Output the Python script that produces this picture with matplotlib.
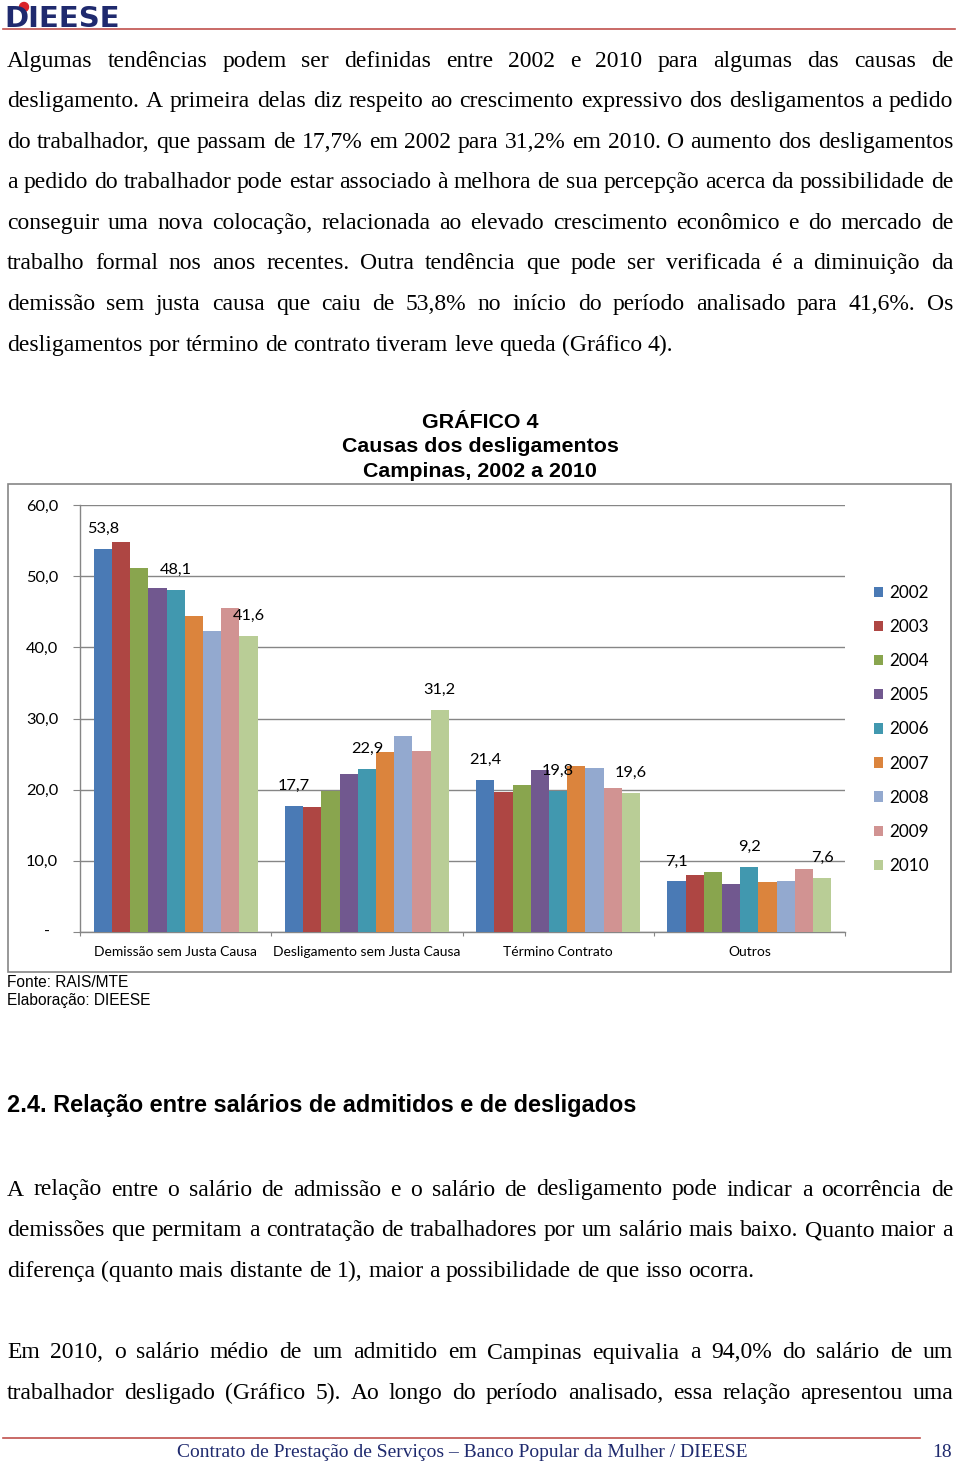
import matplotlib
matplotlib.use('Agg')
import numpy as np
import matplotlib.pyplot as plt
from matplotlib.patches import Rectangle, Ellipse
from matplotlib.lines import Line2D

# dados do grafico 4
categorias = ['Demissão sem Justa Causa', 'Desligamento sem Justa Causa',
              'Término Contrato', 'Outros']
anos = ['2002', '2003', '2004', '2005', '2006', '2007', '2008', '2009', '2010']
v2002 = [53.8, 17.7, 21.4, 7.1]
v2003 = [54.8, 17.5, 19.7, 8.0]
v2004 = [51.1, 19.8, 20.7, 8.4]
v2005 = [48.4, 22.2, 22.7, 6.7]
v2006 = [48.1, 22.9, 19.8, 9.2]
v2007 = [44.4, 25.3, 23.3, 7.0]
v2008 = [42.3, 27.5, 23.0, 7.2]
v2009 = [45.5, 25.4, 20.3, 8.8]
v2010 = [41.6, 31.2, 19.6, 7.6]
series = [v2002, v2003, v2004, v2005, v2006, v2007, v2008, v2009, v2010]
rotulados = ['2002', '2006', '2010']
yticks = [0, 10, 20, 30, 40, 50, 60]
ylabels = ['', '10,0', '20,0', '30,0', '40,0', '50,0', '60,0']

cores = ['#4a7ab5', '#ae4643', '#89a54e', '#71588f', '#4198af',
         '#db843d', '#93a9cf', '#d19392', '#b9cd96']

par1 = ["Algumas tendências podem ser definidas entre 2002 e 2010 para algumas das causas de",
        "desligamento. A primeira delas diz respeito ao crescimento expressivo dos desligamentos a pedido",
        "do trabalhador, que passam de 17,7% em 2002 para 31,2% em 2010. O aumento dos desligamentos",
        "a pedido do trabalhador pode estar associado à melhora de sua percepção acerca da possibilidade de",
        "conseguir uma nova colocação, relacionada ao elevado crescimento econômico e do mercado de",
        "trabalho formal nos anos recentes. Outra tendência que pode ser verificada é a diminuição da",
        "demissão sem justa causa que caiu de 53,8% no início do período analisado para 41,6%. Os",
        "desligamentos por término de contrato tiveram leve queda (Gráfico 4)."]
par2 = ["A relação entre o salário de admissão e o salário de desligamento pode indicar a ocorrência de",
        "demissões que permitam a contratação de trabalhadores por um salário mais baixo. Quanto maior a",
        "diferença (quanto mais distante de 1), maior a possibilidade de que isso ocorra."]
par3 = ["Em 2010, o salário médio de um admitido em Campinas equivalia a 94,0% do salário de um",
        "trabalhador desligado (Gráfico 5). Ao longo do período analisado, essa relação apresentou uma"]

W, H = 960, 1466
plt.rcParams['font.family'] = 'Lato'
fig = plt.figure(figsize=(9.6, 14.66), dpi=100)
r = fig.canvas.get_renderer()


def px(x, y):
    return x / W, 1 - y / H


def linha(txt, y, justify=True, x0=7, x1=953, **kw):
    words = txt.split()
    objs = [fig.text(*px(x0, y), w, va='baseline', **kw) for w in words]
    ws = [o.get_window_extent(r).width for o in objs]
    if justify and len(words) > 1:
        gap = (x1 - x0 - sum(ws)) / (len(words) - 1)
    else:
        a = fig.text(0, 0, 'a a', **kw)
        b = fig.text(0, 0, 'aa', **kw)
        gap = a.get_window_extent(r).width - b.get_window_extent(r).width
        a.remove()
        b.remove()
    x = x0
    for o, w in zip(objs, ws):
        o.set_x(x / W)
        x += w + gap


corpo = dict(family='Liberation Serif', fontsize=17, color='black')
for i, t in enumerate(par1):
    linha(t, 66.7 + 40.55 * i, justify=(i < len(par1) - 1), **corpo)
for i, t in enumerate(par2):
    linha(t, 1195.5 + 40.55 * i, justify=(i < len(par2) - 1), **corpo)
for i, t in enumerate(par3):
    linha(t, 1358.5 + 40.55 * i, justify=True, **corpo)

fig.text(*px(7, 1112), '2.4. Relação entre salários de admitidos e de desligados',
         family='Liberation Sans', weight='bold', fontsize=16.9, va='baseline')

# cabecalho / rodape
fig.text(*px(4, 27), 'DIEESE', family='DejaVu Sans', weight='bold',
         fontsize=21, color='#1f2a6e', va='baseline')
fig.add_artist(Ellipse(px(24, 7), 9 / W, 9 / H, color='#d9232a', transform=fig.transFigure))
fig.add_artist(Line2D([3 / W, 955 / W], [1 - 28.5 / H] * 2, color='#c0504d', lw=1.2))
fig.add_artist(Line2D([3 / W, 920 / W], [1 - 1438 / H] * 2, color='#c0504d', lw=1.2))
fig.text(*px(462, 1457), 'Contrato de Prestação de Serviços – Banco Popular da Mulher / DIEESE',
         family='Liberation Serif', fontsize=14, color='#1f2a6e', ha='center', va='baseline')
fig.text(*px(952, 1457), '18', family='Liberation Serif', fontsize=14,
         color='#1f2a6e', ha='right', va='baseline')

# moldura do grafico
fig.add_artist(Rectangle(px(8, 972), (951 - 8) / W, (972 - 484) / H, fill=False,
                         ec='#868686', lw=1.2, transform=fig.transFigure))

tit = dict(family='Liberation Sans', weight='bold', fontsize=15.4, ha='center', va='baseline')
fig.text(*px(480, 427.5), 'GRÁFICO 4', **tit)
fig.text(*px(480, 452.5), 'Causas dos desligamentos', **tit)
fig.text(*px(480, 477.5), 'Campinas, 2002 a 2010', **tit)

fonte = dict(family='Liberation Sans', fontsize=11.2, va='baseline')
fig.text(*px(7, 987), 'Fonte: RAIS/MTE', **fonte)
fig.text(*px(7, 1005), 'Elaboração: DIEESE', **fonte)

ax = fig.add_axes([80 / W, 1 - 932 / H, (845 - 80) / W, (932 - 505) / H])
x = np.arange(len(categorias))
bw = 1 / 10.5
for i, (ano, vals) in enumerate(zip(anos, series)):
    bars = ax.bar(x + (i - 4) * bw, vals, bw, color=cores[i], label=ano, zorder=3)
    if ano in rotulados:
        for b, v in zip(bars, vals):
            ax.annotate(f'{v:.1f}'.replace('.', ','), (b.get_x() + b.get_width() / 2, v),
                        xytext=(0, 14.4), textcoords='offset points',
                        ha='center', va='center', fontsize=11.8, zorder=6)

ax.set_xlim(-0.5, 3.5)
ax.set_ylim(0, 60)
ax.set_yticks(yticks)
ax.set_yticklabels(ylabels)
ax.yaxis.grid(True, color='#868686', lw=1)
ax.set_axisbelow(True)
for s in ['top', 'right']:
    ax.spines[s].set_visible(False)
for s in ['left', 'bottom']:
    ax.spines[s].set_color('#868686')
    ax.spines[s].set_linewidth(1)
ax.tick_params(axis='y', length=5, color='#868686', pad=10.8, labelsize=11.8)
ax.text(-0.043, 0, '-', transform=ax.get_yaxis_transform(), ha='center', va='center',
        fontsize=11.8)
ax.set_xticks(np.arange(-0.5, 4, 1))
ax.set_xticklabels([])
ax.set_xticks(x, minor=True)
ax.set_xticklabels(categorias, minor=True)
ax.tick_params(axis='x', which='major', length=3, color='#868686')
ax.tick_params(axis='x', which='minor', length=0, pad=10.4, labelsize=10)

fig.legend(loc='upper left', bbox_to_anchor=px(874, 585), frameon=False,
           handlelength=0.55, handleheight=0.55, handletextpad=0.35,
           labelspacing=1.06, fontsize=12.3, borderpad=0, borderaxespad=0)

fig.savefig('out.png', dpi=100)
